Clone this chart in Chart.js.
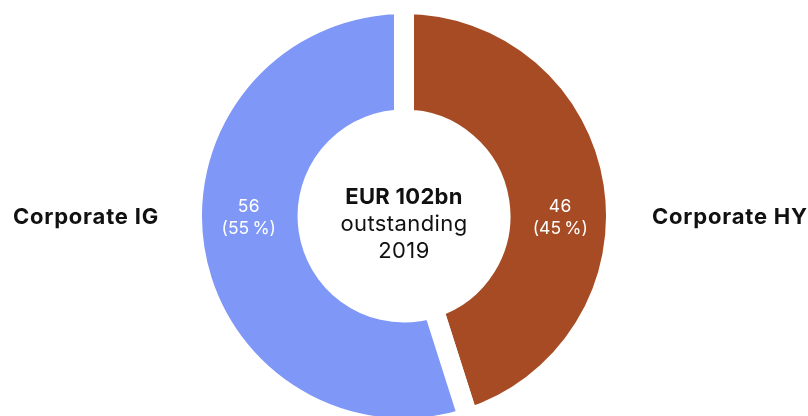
<!DOCTYPE html>
<html>
<head>
<meta charset="utf-8">
<script src="https://cdn.jsdelivr.net/npm/chart.js@4"></script>
<style>
  html, body { margin: 0; padding: 0; background: #fff; overflow: hidden; }
  canvas { display: block; }
</style>
</head>
<body>
<canvas id="donut" width="808" height="432"></canvas>
<script>
// data
const cats = ['Corporate HY', 'Corporate IG'];
const vals = [46, 56];
const colors = ['#A64B24', '#7F97F6'];
const currency = 'EUR';
const unit = 'bn';
const year = '2019';

const total = vals.reduce((a, b) => a + b, 0);

const textPlugin = {
    id: 'texts',
    afterDatasetsDraw(chart) {
        const ctx = chart.ctx;
        const meta = chart.getDatasetMeta(0);
        const first = meta.data[0];
        const cx = first.x;
        const mid = (first.innerRadius + first.outerRadius) / 2;
        ctx.save();
        ctx.textBaseline = 'alphabetic';

        // center text
        ctx.fillStyle = '#111';
        ctx.textAlign = 'center';
        ctx.letterSpacing = '0.3px';
        ctx.font = '700 22px Inter';
        ctx.fillText(currency + ' ' + total + unit, cx, 204);
        ctx.letterSpacing = '0.4px';
        ctx.font = '400 22px Inter';
        ctx.fillText('outstanding', cx, 231);
        ctx.fillText(year, cx, 258);

        meta.data.forEach((arc, i) => {
            const c = arc.getCenterPoint();
            const left = c.x < cx;
            const pct = Math.round(vals[i] / total * 100);
            // value inside the slice
            const lx = left ? cx - mid - 1 : cx + mid + 2;
            ctx.fillStyle = '#fff';
            ctx.textAlign = 'center';
            ctx.letterSpacing = '0.3px';
            ctx.font = '400 17.5px Inter';
            ctx.fillText(String(vals[i]), lx, 212);
            ctx.fillText('(' + pct + '\u202F%)', lx, 234);
            // category outside
            ctx.fillStyle = '#111';
            ctx.letterSpacing = '0.8px';
            ctx.font = '700 22px Inter';
            if (left) {
                ctx.textAlign = 'right';
                ctx.fillText(cats[i], cx - 245, 224);
            } else {
                ctx.textAlign = 'left';
                ctx.fillText(cats[i], cx + 248, 224);
            }
        });
        ctx.restore();
    }
};

new Chart(document.getElementById('donut'), {
    type: 'doughnut',
    data: {
        labels: cats,
        datasets: [{
            data: vals,
            backgroundColor: colors,
            borderColor: '#fff',
            borderWidth: 20
        }]
    },
    options: {
        responsive: false,
        animation: false,
        radius: 212,
        cutout: '45.5%',
        plugins: {
            legend: { display: false },
            tooltip: { enabled: false }
        }
    },
    plugins: [textPlugin]
});
</script>
</body>
</html>
